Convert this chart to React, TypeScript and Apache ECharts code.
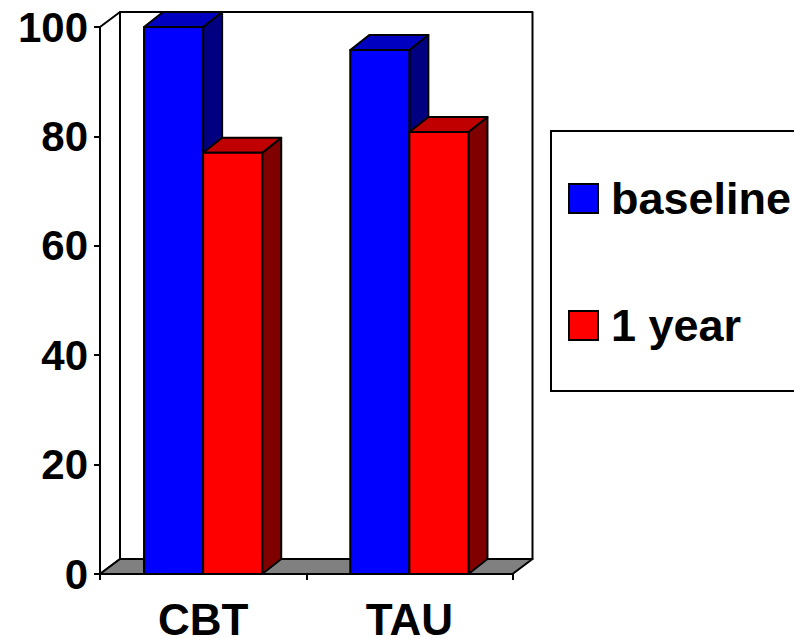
import React, { useEffect, useRef } from "react";
import * as echarts from "echarts";

const categories = ["CBT", "TAU"];
const baseline = [100, 95.8];
const oneYear = [77, 80.8];
const yTicks = { min: 0, max: 100, interval: 20 };

const BAR_DX = 19;
const WALL_DX = 20;
const DY = 15;
const BAR_RATIO = 0.2865;
const FONT = "'Liberation Sans', Arial, sans-serif";
const BLACK = "#000000";
const LINE = { stroke: BLACK, lineWidth: 2, lineJoin: "round" };

function barSeries(name: string, values: number[], offsetIndex: number, front: string, top: string, side: string) {
  return {
    type: "custom",
    name,
    silent: true,
    clip: false,
    z: 3 + offsetIndex,
    encode: { x: 0, y: 1 },
    data: values.map((v, i) => [i, v]),
    itemStyle: { color: front, borderColor: BLACK, borderWidth: 2 },
    renderItem: (_p: any, api: any) => {
      const [cx, yTop] = api.coord([api.value(0), api.value(1)]);
      const [, yBase] = api.coord([api.value(0), 0]);
      const w = api.size([1, 0])[0] * BAR_RATIO;
      const x0 = cx - w + offsetIndex * w;
      const x1 = x0 + w;
      return {
        type: "group",
        children: [
          {
            type: "polygon",
            shape: { points: [[x1, yTop], [x1 + BAR_DX, yTop - DY], [x1 + BAR_DX, yBase - DY], [x1, yBase]] },
            style: { fill: side, ...LINE },
          },
          {
            type: "polygon",
            shape: { points: [[x0, yTop], [x0 + BAR_DX, yTop - DY], [x1 + BAR_DX, yTop - DY], [x1, yTop]] },
            style: { fill: top, ...LINE },
          },
          {
            type: "rect",
            shape: { x: x0, y: yTop, width: w, height: yBase - yTop },
            style: { fill: front, ...LINE },
          },
        ],
      };
    },
  };
}

const wallSeries = {
  type: "custom",
  silent: true,
  clip: false,
  z: 1,
  data: [[0, 0]],
  renderItem: (params: any) => {
    const { x, y, width: w, height: h } = params.coordSys;
    const b = y + h;
    const r = x + w;
    return {
      type: "group",
      children: [
        {
          type: "polygon",
          shape: { points: [[x, b], [x + WALL_DX, b - DY], [x + WALL_DX, y - DY], [x, y]] },
          style: { fill: "#ffffff", ...LINE },
        },
        {
          type: "rect",
          shape: { x: x + WALL_DX, y: y - DY, width: w, height: h },
          style: { fill: "#ffffff", ...LINE },
        },
        {
          type: "polygon",
          shape: { points: [[x, b], [x + WALL_DX, b - DY], [r + WALL_DX, b - DY], [r, b]] },
          style: { fill: "#808080", ...LINE },
        },
      ],
    };
  },
};

export default function App() {
  const ref = useRef<HTMLDivElement>(null);
  useEffect(() => {
    const chart = echarts.init(ref.current!, undefined, { renderer: "svg" });
    chart.setOption({
      animation: false,
      backgroundColor: "#ffffff",
      textStyle: { fontFamily: FONT },
      grid: { left: 100, right: 281.5, top: 27, bottom: 64, containLabel: false, outerBoundsMode: "none" },
      xAxis: {
        type: "category",
        data: categories,
        axisLine: { lineStyle: { color: BLACK, width: 2 } },
        axisTick: { show: true, length: 6, lineStyle: { color: BLACK, width: 2 } },
        axisLabel: { color: BLACK, fontSize: 44, lineHeight: 36, fontWeight: "bold", fontFamily: FONT, margin: 27 },
      },
      yAxis: {
        type: "value",
        min: yTicks.min,
        max: yTicks.max,
        interval: yTicks.interval,
        splitLine: { show: false },
        axisLine: { show: true, lineStyle: { color: BLACK, width: 2 } },
        axisTick: { show: true, length: 6, lineStyle: { color: BLACK, width: 2 } },
        axisLabel: { color: BLACK, fontSize: 42, fontWeight: "bold", fontFamily: FONT, margin: 12 },
      },
      legend: {
        orient: "vertical",
        left: 551,
        top: 131,
        padding: [45, 10, 43, 17],
        itemWidth: 29,
        itemHeight: 29,
        itemGap: 82,
        backgroundColor: "#ffffff",
        borderColor: BLACK,
        borderWidth: 2,
        selectedMode: false,
        data: [
          { name: "baseline", icon: "rect", itemStyle: { color: "#0000ff", borderColor: BLACK, borderWidth: 2 } },
          { name: "1 year", icon: "rect", itemStyle: { color: "#ff0000", borderColor: BLACK, borderWidth: 2 } },
        ],
        textStyle: { color: BLACK, fontSize: 45, fontWeight: "bold", fontFamily: FONT, padding: [0, 0, 0, 8] },
      },
      series: [
        wallSeries,
        barSeries("baseline", baseline, 0, "#0000ff", "#0000c0", "#000080"),
        barSeries("1 year", oneYear, 1, "#ff0000", "#c00000", "#800000"),
      ],
    });
    return () => chart.dispose();
  }, []);
  return <div ref={ref} style={{ position: "fixed", left: 0, top: 0, width: 794, height: 638 }} />;
}
